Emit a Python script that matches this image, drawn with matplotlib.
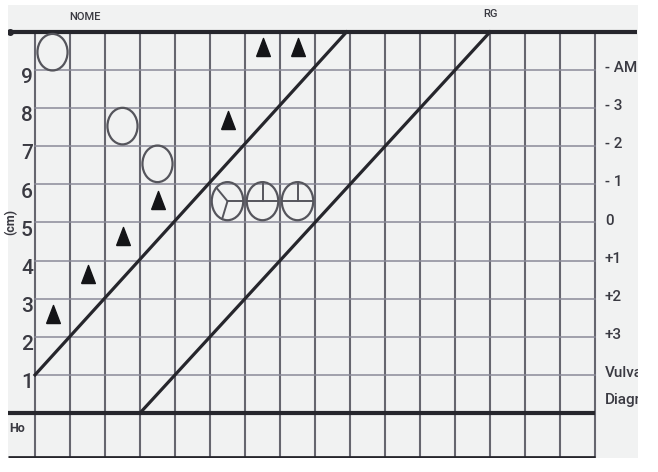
import numpy as np
import matplotlib
matplotlib.use("Agg")
import matplotlib.pyplot as plt
from matplotlib.patches import Ellipse

# ---- data ----
hours = list(range(0, 17))                 # vertical grid lines (hours)
dilation_levels = list(range(1, 10))       # horizontal grid lines (cm)
left_labels = ["1", "2", "3", "4", "5", "6", "7", "8", "9"]
right_labels = ["Vulva", "+3", "+2", "+1", "0", "- 1", "- 2", "- 3", "- AM"]
right_label_levels = [1, 2, 3, 4, 5, 6, 7, 8, 9]

alert_x = [0, 8.9]
alert_y = [1, 10]
action_x = [3, 13]
action_y = [0, 10]

circle_x = [0.5, 2.5, 3.5]
circle_y = [9.47, 7.53, 6.54]

tri_x = [0.5, 1.5, 2.5, 3.5, 5.5, 6.5, 7.5]
tri_y = [2.6, 3.65, 4.65, 5.6, 7.7, 9.6, 9.6]

head_x = [5.5, 6.5, 7.5]
head_y = [5.56, 5.56, 5.56]
head_angles = [[135, 250, 0], [180, 0, 90], [180, 0, 90]]

FONT = ["Roboto", "DejaVu Sans"]
plt.rcParams["font.family"] = FONT
TXT = "#3a3a42"

W, H = 658, 472
fig = plt.figure(figsize=(W / 100, H / 100), dpi=100)
fig.patch.set_facecolor("white")
ax = fig.add_axes([8 / W, (H - 458) / H, 630 / W, 453 / H])
ax.set_xlim((8 - 35) / 35, (638 - 35) / 35)
ax.set_ylim((413 - 458) / 38.1, (413 - 5) / 38.1)
ax.set_facecolor("#f1f2f2")
for s in ax.spines.values():
    s.set_visible(False)
ax.set_xticks([])
ax.set_yticks([])

xl = (8 - 35) / 35
ybot = (413 - 457) / 38.1
xr_top = (637 - 35) / 35

# vertical grid
for h in hours:
    ax.plot([h, h], [ybot, 10], color="#66666f", lw=1.5, zorder=1)
# horizontal grid
for lv in dilation_levels:
    ax.plot([0, 16], [lv, lv], color="#8a8a98", lw=1.1, zorder=1)

# thick frame lines
ax.plot([xl, xr_top], [10, 10], color="#26262c", lw=3.0, zorder=3, solid_capstyle="butt")
ax.plot([xl, 16], [0, 0], color="#26262c", lw=3.0, zorder=3, solid_capstyle="butt")
ax.plot([xl, 16], [ybot, ybot], color="#26262c", lw=2.0, zorder=3, solid_capstyle="butt")
ax.plot([xl + 0.05], [10], marker="o", ms=4, color="#26262c", zorder=4)

# alert / action lines
ax.plot(alert_x, alert_y, color="#26262c", lw=2.3, zorder=3)
ax.plot(action_x, action_y, color="#26262c", lw=2.3, zorder=3)

EC = "#55555c"
rx, ry = 0.43, 0.48
# open circles
for cx, cy in zip(circle_x, circle_y):
    ax.add_patch(Ellipse((cx, cy), 2 * rx, 2 * ry, fill=False, ec=EC, lw=1.6, zorder=4))

# triangles (tall, narrow)
tri_marker = [(-0.38, -0.5), (0.38, -0.5), (0.0, 0.5), (-0.38, -0.5)]
ax.plot(tri_x, tri_y, linestyle="none", marker=tri_marker, ms=13, color="#141417", zorder=4)

# head position symbols
hrx, hry = 0.45, 0.5
for cx, cy, angs in zip(head_x, head_y, head_angles):
    ax.add_patch(Ellipse((cx, cy), 2 * hrx, 2 * hry, fill=False, ec=EC, lw=1.6, zorder=4))
    for a in angs:
        t = np.deg2rad(a)
        ax.plot([cx, cx + hrx * np.cos(t)], [cy, cy + hry * np.sin(t)],
                color=EC, lw=1.4, zorder=4)

# left labels
for lab, lv in zip(left_labels, dilation_levels):
    ax.text(-0.23, lv - 0.2, lab, ha="center", va="center", fontsize=15,
            color=TXT, family=FONT, fontweight="medium")
# right labels
for lab, lv in zip(right_labels, right_label_levels):
    ax.text(16.28, lv + 0.05, lab, ha="left", va="center", fontsize=11,
            color=TXT, family=FONT, fontweight="medium", clip_on=True)
ax.text(16.28, 0.35, "Diagr", ha="left", va="center", fontsize=11,
        color=TXT, family=FONT, fontweight="medium", clip_on=True)

ax.text(1.43, 10.4, "NOME", ha="center", va="center", fontsize=8, color=TXT,
        family=FONT, fontweight="medium")
ax.text(13.0, 10.47, "RG", ha="center", va="center", fontsize=8, color=TXT,
        family=FONT, fontweight="medium")
ax.text(-0.75, -0.4, "Ho", ha="left", va="center", fontsize=9, color=TXT,
        family=FONT, fontweight="bold")
ax.text(-0.68, 5.0, "(cm)", ha="center", va="center", rotation=90, fontsize=9,
        color=TXT, family=FONT, fontweight="bold")

fig.savefig("out.png", dpi=100)
